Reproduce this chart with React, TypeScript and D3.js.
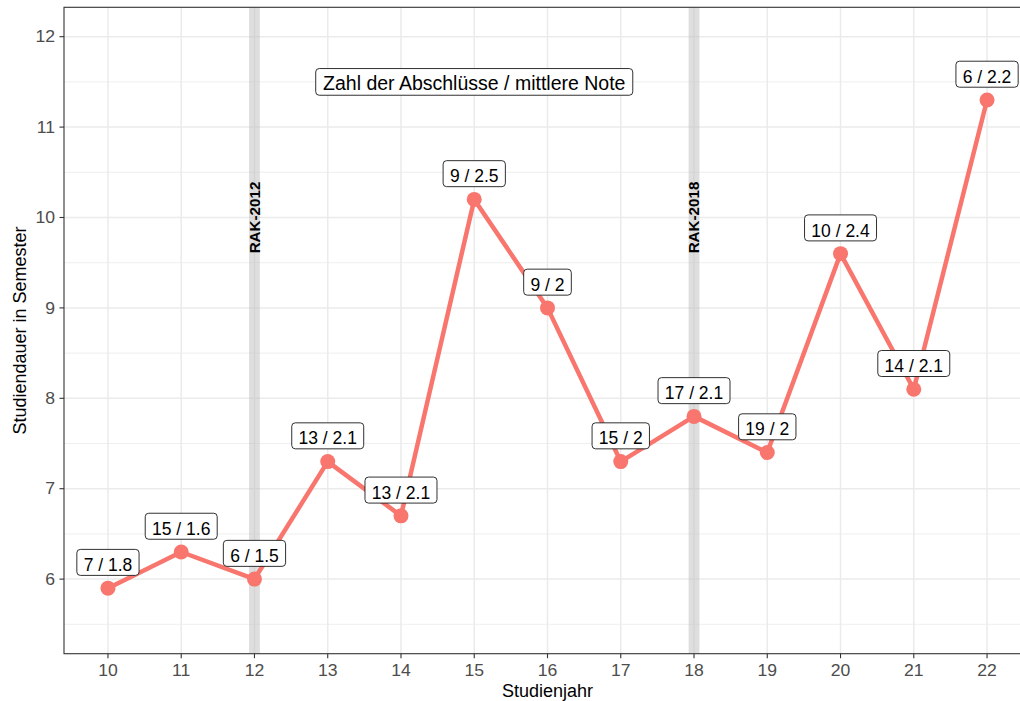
import React from "react";
import * as d3 from "d3";

const years = [10, 11, 12, 13, 14, 15, 16, 17, 18, 19, 20, 21, 22];
const duration = [5.9, 6.3, 6.0, 7.3, 6.7, 10.2, 9.0, 7.3, 7.8, 7.4, 9.6, 8.1, 11.3];
const counts = [7, 15, 6, 13, 13, 9, 9, 15, 17, 19, 10, 14, 6];
const grades = ["1.8", "1.6", "1.5", "2.1", "2.1", "2.5", "2", "2", "2.1", "2", "2.4", "2.1", "2.2"];
const yMajor = [6, 7, 8, 9, 10, 11, 12];
const yMinor = [5.5, 6.5, 7.5, 8.5, 9.5, 10.5, 11.5];
const markerYears = [12, 18];
const markerLabels = ["RAK-2012", "RAK-2018"];
const markerLabelY = 10;
const titleText = "Zahl der Abschlüsse / mittlere Note";
const titleX = 15;
const titleY = 11.5;
const xTitle = "Studienjahr";
const yTitle = "Studiendauer in Semester";

const W = 1020;
const H = 701;
const PL = 64;
const PR = 1031;
const PT = 7.3;
const PB = 653.7;
const FONT = "'Liberation Sans', Arial, Helvetica, sans-serif";
const RED = "#F8766D";

let ctx: CanvasRenderingContext2D | null = null;
function measure(text: string, size: number, weight = "normal") {
  if (!ctx) ctx = document.createElement("canvas").getContext("2d");
  if (!ctx) return text.length * size * 0.55;
  ctx.font = `${weight} ${size}px 'Liberation Sans', Arial, sans-serif`;
  return ctx.measureText(text).width;
}

export default function App() {
  const x = d3.scaleLinear().domain([9.4, 22.6]).range([PL, PR]);
  const y = d3.scaleLinear().domain([5.175, 12.325]).range([PB, PT]);
  const line = d3
    .line<number>()
    .x((_, i) => x(years[i]))
    .y((d) => y(d));

  const labelFs = 17.5;
  const labelPad = 6.8;
  const labelH = 26;
  const labelOffset = 25.75;

  const titleFs = 19.5;
  const titleW = measure(titleText, titleFs) + 2 * 6.8;
  const titleH = 26.7;
  const tcx = x(titleX);
  const tcy = y(titleY);
  const tickFs = 16;
  const stretch = 1.1;

  return (
    <div style={{ position: "absolute", left: 0, top: 0 }}>
      <svg width={W} height={H} style={{ display: "block", fontFamily: FONT }}>
        <defs>
          <clipPath id="panel">
            <rect x={PL} y={PT} width={PR - PL} height={PB - PT} />
          </clipPath>
        </defs>
        <rect x={0} y={0} width={W} height={H} fill="#fff" />
        <g clipPath="url(#panel)">
          {yMinor.map((v) => (
            <line key={"mi" + v} x1={PL} x2={PR} y1={y(v)} y2={y(v)} stroke="#EBEBEB" strokeWidth={0.8} />
          ))}
          {yMajor.map((v) => (
            <line key={"ma" + v} x1={PL} x2={PR} y1={y(v)} y2={y(v)} stroke="#EBEBEB" strokeWidth={1.5} />
          ))}
          {years.map((v) => (
            <line key={"vx" + v} x1={x(v)} x2={x(v)} y1={PT} y2={PB} stroke="#EBEBEB" strokeWidth={1.5} />
          ))}
          {markerYears.map((v) => (
            <rect key={"band" + v} x={x(v) - 5.4} y={PT} width={10.8} height={PB - PT} fill="#BEBEBE" opacity={0.5} />
          ))}
          {markerYears.map((v, i) => (
            <text
              key={"mt" + v}
              transform={`translate(${x(v) + 5.3},${y(markerLabelY)}) rotate(-90)`}
              textAnchor="middle"
              fontSize={15.2}
              fontWeight="bold"
              fill="#000"
            >
              {markerLabels[i]}
            </text>
          ))}
          <path d={line(duration) || ""} fill="none" stroke={RED} strokeWidth={4.5} strokeLinejoin="round" />
          {duration.map((d, i) => (
            <circle key={"pt" + i} cx={x(years[i])} cy={y(d)} r={7.5} fill={RED} />
          ))}
          {duration.map((d, i) => {
            const txt = `${counts[i]} / ${grades[i]}`;
            const w = measure(txt, labelFs) + 2 * labelPad;
            const cx = x(years[i]);
            const cy = y(d) - labelOffset;
            return (
              <g key={"lb" + i}>
                <rect
                  x={cx - w / 2}
                  y={cy - labelH / 2}
                  width={w}
                  height={labelH}
                  rx={3.5}
                  fill="#fff"
                  stroke="#1a1a1a"
                  strokeWidth={0.9}
                />
                <text x={cx} y={cy + labelH / 2 - 4.4} textAnchor="middle" fontSize={labelFs} fill="#000">
                  {txt}
                </text>
              </g>
            );
          })}
          <rect
            x={tcx - titleW / 2}
            y={tcy - titleH / 2}
            width={titleW}
            height={titleH}
            rx={3.5}
            fill="#fff"
            stroke="#1a1a1a"
            strokeWidth={0.9}
          />
          <text x={tcx} y={tcy + titleH / 2 - 5.7} textAnchor="middle" fontSize={titleFs} fill="#000">
            {titleText}
          </text>
        </g>
        <rect x={PL} y={PT} width={PR - PL} height={PB - PT} fill="none" stroke="#333333" strokeWidth={1.1} />
        {yMajor.map((v) => (
          <g key={"yt" + v}>
            <line x1={PL - 4.5} x2={PL} y1={y(v)} y2={y(v)} stroke="#333333" strokeWidth={1.1} />
            <text
              transform={`translate(${PL - 9},${y(v) + 5.7}) scale(${stretch},1)`}
              textAnchor="end"
              fontSize={tickFs}
              fill="#4D4D4D"
            >
              {v}
            </text>
          </g>
        ))}
        {years.map((v) => (
          <g key={"xt" + v}>
            <line x1={x(v)} x2={x(v)} y1={PB} y2={PB + 4.5} stroke="#333333" strokeWidth={1.1} />
            <text
              transform={`translate(${x(v)},675.7) scale(${stretch},1)`}
              textAnchor="middle"
              fontSize={tickFs}
              fill="#4D4D4D"
            >
              {v}
            </text>
          </g>
        ))}
        <text x={(PL + PR) / 2} y={696.7} textAnchor="middle" fontSize={18} fill="#000">
          {xTitle}
        </text>
        <text
          transform={`translate(26,${(PT + PB) / 2}) rotate(-90)`}
          textAnchor="middle"
          fontSize={18}
          fill="#000"
        >
          {yTitle}
        </text>
      </svg>
    </div>
  );
}
